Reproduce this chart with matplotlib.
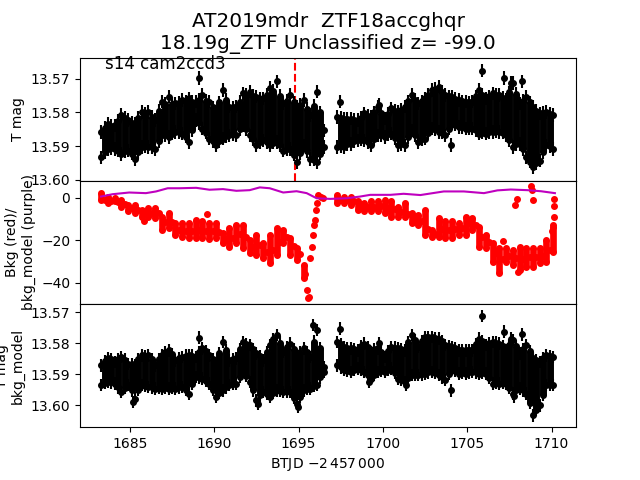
import matplotlib
matplotlib.use("Agg")
import matplotlib.pyplot as plt

# time columns of the dense light curve
t_cols = [1683.3, 1683.7, 1684.1, 1684.5, 1684.9, 1685.3, 1685.7, 1686.1, 1686.5, 1686.9, 1687.3, 1687.7,
          1688.1, 1688.5, 1688.9, 1689.3, 1689.7, 1690.1, 1690.5, 1690.9, 1691.3, 1691.7, 1692.1, 1692.5,
          1692.9, 1693.3, 1693.7, 1694.1, 1694.5, 1694.9, 1695.3, 1695.7, 1696.1, 1696.5,
          1697.3, 1697.7, 1698.1, 1698.5, 1698.9, 1699.3, 1699.7, 1700.1, 1700.5, 1700.9, 1701.3, 1701.7,
          1702.1, 1702.5, 1702.9, 1703.3, 1703.7, 1704.1, 1704.5, 1704.9, 1705.3, 1705.7, 1706.1, 1706.5,
          1706.9, 1707.3, 1707.7, 1708.1, 1708.5, 1708.9, 1709.3, 1709.7, 1710.1]
# columns in between, the edge of the blob is read there too
t_half = [1683.5, 1683.9, 1684.3, 1684.7, 1685.1, 1685.5, 1685.9, 1686.3, 1686.7, 1687.1, 1687.5, 1687.9,
          1688.3, 1688.7, 1689.1, 1689.5, 1689.9, 1690.3, 1690.7, 1691.1, 1691.5, 1691.9, 1692.3, 1692.7,
          1693.1, 1693.5, 1693.9, 1694.3, 1694.7, 1695.1, 1695.5, 1695.9, 1696.3,
          1697.5, 1697.9, 1698.3, 1698.7, 1699.1, 1699.5, 1699.9, 1700.3, 1700.7, 1701.1, 1701.5, 1701.9,
          1702.3, 1702.7, 1703.1, 1703.5, 1703.9, 1704.3, 1704.7, 1705.1, 1705.5, 1705.9, 1706.3, 1706.7,
          1707.1, 1707.5, 1707.9, 1708.3, 1708.7, 1709.1, 1709.5, 1709.9]

# top panel: T mag
top_hi = [13.5858, 13.5833, 13.5838, 13.5808, 13.5823, 13.5833, 13.5798, 13.5798, 13.5823, 13.5768, 13.5753, 13.5773,
          13.5763, 13.5758, 13.5768, 13.5748, 13.5768, 13.5803, 13.5733, 13.5783, 13.5783, 13.5743, 13.5738, 13.5753,
          13.5758, 13.5728, 13.5708, 13.5773, 13.5748, 13.5783, 13.5763, 13.5808, 13.5738, 13.5853,
          13.5813, 13.5818, 13.5818, 13.5823, 13.5803, 13.5813, 13.5783, 13.5818, 13.5788, 13.5798, 13.5783, 13.5748,
          13.5773, 13.5758, 13.5733, 13.5723, 13.5748, 13.5753, 13.5763, 13.5768, 13.5768, 13.5733, 13.5758, 13.5743,
          13.5748, 13.5763, 13.5713, 13.5773, 13.5753, 13.5783, 13.5803, 13.5798, 13.5808]
top_lo = [13.5933, 13.5908, 13.5908, 13.5923, 13.5913, 13.5938, 13.5903, 13.5903, 13.5908, 13.5868, 13.5873, 13.5858,
          13.5863, 13.5888, 13.5823, 13.5848, 13.5878, 13.5898, 13.5878, 13.5868, 13.5868, 13.5838, 13.5868, 13.5898,
          13.5883, 13.5898, 13.5888, 13.5913, 13.5908, 13.5948, 13.5898, 13.5938, 13.5948, 13.5903,
          13.5903, 13.5903, 13.5893, 13.5883, 13.5883, 13.5898, 13.5868, 13.5873, 13.5863, 13.5898, 13.5898, 13.5853,
          13.5888, 13.5878, 13.5848, 13.5858, 13.5868, 13.5833, 13.5843, 13.5848, 13.5848, 13.5863, 13.5863, 13.5858,
          13.5858, 13.5868, 13.5903, 13.5893, 13.5933, 13.5963, 13.5943, 13.5898, 13.5908]
top_hi_half = [13.5845, 13.5840, 13.5825, 13.5815, 13.5830, 13.5815, 13.5805, 13.5812, 13.5795, 13.5775, 13.5775,
               13.5772, 13.5767, 13.5768, 13.5762, 13.5765, 13.5785, 13.5770, 13.5762, 13.5785, 13.5768, 13.5748,
               13.5750, 13.5760, 13.5748, 13.5735, 13.5750, 13.5765, 13.5770, 13.5778, 13.5790, 13.5780, 13.5800,
               13.5817, 13.5820, 13.5822, 13.5815, 13.5810, 13.5800, 13.5803, 13.5805, 13.5795, 13.5792, 13.5767,
               13.5763, 13.5767, 13.5747, 13.5730, 13.5738, 13.5752, 13.5760, 13.5767, 13.5770, 13.5752, 13.5748,
               13.5752, 13.5748, 13.5757, 13.5740, 13.5745, 13.5765, 13.5770, 13.5795, 13.5802, 13.5805]
top_lo_half = [13.5918, 13.5905, 13.5913, 13.5915, 13.5922, 13.5918, 13.5900, 13.5902, 13.5885, 13.5868, 13.5863,
               13.5858, 13.5872, 13.5853, 13.5832, 13.5860, 13.5885, 13.5885, 13.5870, 13.5865, 13.5850, 13.5850,
               13.5880, 13.5888, 13.5888, 13.5890, 13.5898, 13.5908, 13.5925, 13.5920, 13.5915, 13.5940, 13.5922,
               13.5900, 13.5895, 13.5885, 13.5881, 13.5888, 13.5880, 13.5868, 13.5865, 13.5877, 13.5895, 13.5873,
               13.5868, 13.5880, 13.5860, 13.5850, 13.5860, 13.5848, 13.5836, 13.5843, 13.5846, 13.5853, 13.5860,
               13.5858, 13.5856, 13.5860, 13.5882, 13.5895, 13.5910, 13.5946, 13.5950, 13.5918, 13.5900]
top_out_t = [1689.09, 1697.46, 1699.74, 1704.01, 1705.85, 1707.18, 1707.6, 1708.23]
top_out = [13.5698, 13.5768, 13.5778, 13.5896, 13.5676, 13.5698, 13.5713, 13.5708]

# bottom panel: T mag / bkg_model
bot_hi = [13.5871, 13.5849, 13.5860, 13.5844, 13.5866, 13.5871, 13.5839, 13.5839, 13.5871, 13.5839, 13.5823, 13.5855,
          13.5844, 13.5839, 13.5844, 13.5817, 13.5839, 13.5871, 13.5796, 13.5855, 13.5849, 13.5796, 13.5806, 13.5833,
          13.5855, 13.5806, 13.5774, 13.5828, 13.5801, 13.5844, 13.5817, 13.5844, 13.5758, 13.5876,
          13.5796, 13.5812, 13.5817, 13.5823, 13.5801, 13.5828, 13.5817, 13.5844, 13.5812, 13.5817, 13.5823, 13.5774,
          13.5812, 13.5780, 13.5780, 13.5785, 13.5806, 13.5812, 13.5823, 13.5823, 13.5823, 13.5785, 13.5806, 13.5796,
          13.5801, 13.5823, 13.5790, 13.5833, 13.5806, 13.5849, 13.5860, 13.5839, 13.5844]
bot_lo = [13.5935, 13.5925, 13.5930, 13.5957, 13.5935, 13.5978, 13.5935, 13.5941, 13.5946, 13.5946, 13.5946, 13.5946,
          13.5941, 13.5962, 13.5909, 13.5914, 13.5930, 13.5973, 13.5952, 13.5935, 13.5930, 13.5892, 13.5925, 13.5984,
          13.5957, 13.5973, 13.5952, 13.5957, 13.5957, 13.5995, 13.5952, 13.5946, 13.5935, 13.5892,
          13.5871, 13.5887, 13.5892, 13.5882, 13.5892, 13.5914, 13.5892, 13.5892, 13.5882, 13.5914, 13.5925, 13.5903,
          13.5903, 13.5898, 13.5892, 13.5903, 13.5919, 13.5882, 13.5898, 13.5898, 13.5892, 13.5898, 13.5898, 13.5930,
          13.5930, 13.5930, 13.5962, 13.5946, 13.5962, 13.6032, 13.6000, 13.5935, 13.5935]
bot_hi_half = [13.5858, 13.5852, 13.5850, 13.5853, 13.5866, 13.5852, 13.5842, 13.5852, 13.5852, 13.5828, 13.5836,
               13.5848, 13.5840, 13.5840, 13.5828, 13.5826, 13.5852, 13.5832, 13.5822, 13.5850, 13.5820, 13.5802,
               13.5818, 13.5842, 13.5828, 13.5788, 13.5798, 13.5812, 13.5820, 13.5828, 13.5828, 13.5795, 13.5815,
               13.5803, 13.5815, 13.5820, 13.5810, 13.5813, 13.5820, 13.5828, 13.5826, 13.5814, 13.5820, 13.5796,
               13.5790, 13.5794, 13.5780, 13.5783, 13.5794, 13.5809, 13.5817, 13.5823, 13.5823, 13.5802, 13.5793,
               13.5800, 13.5798, 13.5810, 13.5805, 13.5810, 13.5818, 13.5826, 13.5854, 13.5848, 13.5842]
bot_lo_half = [13.5928, 13.5926, 13.5942, 13.5944, 13.5952, 13.5950, 13.5936, 13.5942, 13.5944, 13.5944, 13.5944,
               13.5942, 13.5950, 13.5932, 13.5910, 13.5920, 13.5950, 13.5960, 13.5942, 13.5932, 13.5908, 13.5905,
               13.5952, 13.5968, 13.5963, 13.5960, 13.5953, 13.5955, 13.5975, 13.5972, 13.5948, 13.5938, 13.5910,
               13.5878, 13.5888, 13.5886, 13.5886, 13.5902, 13.5902, 13.5890, 13.5886, 13.5896, 13.5918, 13.5912,
               13.5901, 13.5900, 13.5894, 13.5896, 13.5910, 13.5898, 13.5888, 13.5896, 13.5894, 13.5894, 13.5896,
               13.5912, 13.5928, 13.5928, 13.5944, 13.5952, 13.5952, 13.5992, 13.6015, 13.5965, 13.5933]
bot_out_t = [1685.16, 1689.09, 1692.6, 1694.98, 1695.87, 1697.46, 1699.2, 1699.74, 1701.39, 1704.01, 1705.87, 1707.18, 1707.6, 1707.78, 1708.23]
bot_out = [13.5989, 13.5782, 13.5995, 13.6005, 13.5742, 13.5753, 13.5925, 13.5799, 13.5935, 13.5952, 13.5713, 13.5763, 13.5785, 13.5971, 13.5772]

# middle panel: background (red)
t_red = [1683.3, 1683.7, 1684.1, 1684.5, 1684.9, 1685.3, 1685.7, 1686.1, 1686.5, 1686.9, 1687.3, 1687.7,
         1688.1, 1688.5, 1688.9, 1689.3, 1689.7, 1690.1, 1690.5, 1690.9, 1691.3, 1691.7, 1692.1, 1692.5,
         1692.9, 1693.3, 1693.7, 1694.1, 1694.5, 1694.9, 1695.3,
         1697.3, 1697.7, 1698.1, 1698.5, 1698.9, 1699.3, 1699.7, 1700.1, 1700.5, 1700.9, 1701.3, 1701.7,
         1702.1, 1702.5, 1702.9, 1703.3, 1703.7, 1704.1, 1704.5, 1704.9, 1705.3, 1705.7, 1706.1, 1706.5,
         1706.9, 1707.3, 1707.7, 1708.1, 1708.5, 1708.9, 1709.3, 1709.7, 1710.1]
red_hi = [2.2, 0.6, -0.2, -0.9, -3.3, -3.3, -5.6, -4.9, -4.9, -8.8, -7.2, -11.9,
          -11.9, -11.9, -10.4, -11.1, -11.9, -11.9, -16.6, -14.3, -12.7, -12.7, -19.8, -17.4,
          -21.3, -17.4, -14.3, -15.1, -19.0, -23.7, -31.5,
          1.4, 0.6, 0.6, -1.7, -2.5, -1.7, -1.7, -0.9, -1.7, -4.1, -2.5, -7.2,
          -8.0, -5.6, -15.1, -9.6, -11.1, -11.1, -11.9, -8.8, -9.6, -13.5, -17.4, -21.3,
          -23.7, -23.7, -24.5, -22.9, -23.7, -23.7, -23.7, -19.8, -13.5]
red_lo = [-0.9, -2.5, -1.7, -4.1, -6.4, -7.2, -8.8, -8.8, -9.6, -15.1, -14.3, -17.4,
          -18.2, -19.0, -19.0, -19.0, -19.5, -19.0, -21.3, -22.9, -21.3, -23.7, -26.0, -26.8,
          -28.4, -30.7, -26.8, -21.3, -26.8, -29.2, -37.8,
          -2.5, -2.5, -3.3, -5.6, -6.4, -6.4, -6.4, -7.2, -8.8, -8.8, -8.8, -11.9,
          -12.7, -17.4, -18.2, -18.2, -19.0, -19.0, -17.4, -17.4, -15.1, -22.9, -23.7, -30.0,
          -35.5, -30.0, -31.5, -33.9, -32.3, -32.3, -30.7, -30.0, -25.3]
t_red_mid = [1683.5, 1683.9, 1684.3, 1684.7, 1685.1, 1685.5, 1685.9, 1686.3, 1686.7, 1687.1, 1687.5, 1687.9,
             1688.3, 1688.7, 1689.1, 1689.5, 1689.9, 1690.3, 1690.7, 1691.1, 1691.5, 1691.9, 1692.3, 1692.7,
             1693.1, 1693.5, 1693.9, 1694.3, 1694.7, 1695.1,
             1697.5, 1697.9, 1698.3, 1698.7, 1699.1, 1699.5, 1699.9, 1700.3, 1700.7, 1701.1, 1701.5, 1701.9,
             1702.3, 1702.7, 1703.1, 1703.5, 1703.9, 1704.3, 1704.7, 1705.1, 1705.5, 1705.9, 1706.3, 1706.7,
             1707.1, 1707.5, 1707.9, 1708.3, 1708.7, 1709.1, 1709.5, 1709.9]
red_mid = [-0.9, -1.6, -1.9, -3.0, -4.8, -5.8, -7.0, -7.2, -7.2, -11.4, -11.2, -15.2,
           -15.4, -15.8, -15.0, -15.4, -15.8, -16.0, -19.4, -18.8, -17.2, -18.6, -23.0, -22.4,
           -25.4, -24.4, -20.8, -18.6, -22.6, -26.4,
           -1.0, -1.2, -1.6, -3.8, -4.2, -4.4, -4.0, -4.6, -5.4, -6.6, -7.4, -10.0,
           -11.0, -14.6, -16.8, -14.8, -15.2, -14.8, -14.4, -12.0, -12.6, -18.6, -20.8, -26.0,
           -28.6, -27.5, -28.4, -28.6, -27.8, -27.8, -27.2, -24.6]
# the dip near 1695.5, the recovery, and stragglers
t_red_extra = [1685.81, 1689.56, 1695.38, 1695.48, 1695.58, 1695.62, 1695.67, 1695.77, 1695.87, 1695.93, 1695.97,
               1696.03, 1696.07, 1696.17, 1696.31, 1696.47,
               1707.12, 1707.84, 1707.94, 1708.02, 1708.81, 1708.87, 1708.91, 1710.06, 1710.12, 1710.16, 1710.16, 1710.0]
red_extra = [-11.1, -7.7, -36.0, -43.4, -47.3, -46.5, -28.4, -22.9, -17.4, -13.0, -10.4,
             -5.6, -2.5, 1.4, 0.5, 0.0,
             -20.5, -3.3, -0.6, -34.7, 5.6, 3.5, -0.9, -12.7, -9.1, -3.8, -0.5, -15.6]

# background model (purple)
t_model = [1683.29, 1683.97, 1684.96, 1685.95, 1686.55, 1687.24, 1687.94, 1688.93, 1689.72, 1690.52, 1691.31,
           1692.10, 1692.70, 1693.29, 1694.09, 1694.88, 1695.48, 1696.07, 1696.87,
           1697.86, 1698.65, 1699.25, 1700.44, 1701.23, 1702.22, 1703.61, 1704.80, 1705.99, 1706.79, 1707.58,
           1708.57, 1709.37, 1710.2]
model = [0.6, 1.7, 2.5, 2.2, 3.0, 4.5, 4.5, 4.7, 3.8, 4.1, 3.3,
         3.6, 4.9, 4.5, 2.5, 3.1, 2.2, -0.2, -0.5,
         -0.2, 0.6, 1.4, 1.4, 1.9, 1.3, 3.0, 3.0, 2.2, 3.5, 3.9,
         3.6, 3.1, 2.2]

t_event = 1694.78
mag_err = 0.002


def draw_mag(ax, hi, lo, hi_half, lo_half, out_t, out):
    # solid core of the blob, then the points along its edges
    ax.vlines(t_half, hi_half, lo_half, color='k', lw=5, zorder=2)
    series = [(t_cols, hi), (t_cols, lo), (t_half, hi_half), (t_half, lo_half), (out_t, out)]
    for ts, vals in series:
        ax.errorbar(ts, vals, yerr=mag_err, fmt='o', color='k', ms=4, elinewidth=1.5, zorder=3)


fig, (ax1, ax2, ax3) = plt.subplots(3, 1, sharex=True)
fig.subplots_adjust(hspace=0)

draw_mag(ax1, top_hi, top_lo, top_hi_half, top_lo_half, top_out_t, top_out)
ax1.axvline(t_event, color='r', ls='--', zorder=1)
ax1.set_ylim(13.6003, 13.5637)
ax1.set_yticks([13.57, 13.58, 13.59, 13.60])
ax1.set_yticklabels(['13.57', '13.58', '13.59', '13.60'])
ax1.set_ylabel('T mag')
ax1.text(0.05, 0.905, 's14 cam2ccd3', transform=ax1.transAxes, fontsize=12)
ax1.set_title('AT2019mdr  ZTF18accghqr\n18.19g_ZTF Unclassified z= -99.0', fontsize=14.4)

ax2.vlines(t_red, red_hi, red_lo, color='r', lw=4.8)
for ts, vals in ((t_red, red_hi), (t_red, red_lo), (t_red_mid, red_mid), (t_red_extra, red_extra)):
    ax2.plot(ts, vals, '.', color='r', ms=8)
ax2.plot(t_model, model, '-', color='m', lw=1.5)
ax2.set_ylim(-49.9, 8)
ax2.set_yticks([0, -20, -40])
ax2.set_ylabel('Bkg (red)/\nbkg_model (purple)')

draw_mag(ax3, bot_hi, bot_lo, bot_hi_half, bot_lo_half, bot_out_t, bot_out)
ax3.set_ylim(13.607, 13.5674)
ax3.set_yticks([13.57, 13.58, 13.59, 13.60])
ax3.set_yticklabels(['13.57', '13.58', '13.59', '13.60'])
ax3.set_ylabel('T mag\nbkg_model')

ax3.set_xlim(1682.04, 1711.45)
ax3.set_xticks([1685, 1690, 1695, 1700, 1705, 1710])
ax3.set_xlabel(r'BTJD $-2\,457\,000$')

fig.savefig('out.png', dpi=100)
